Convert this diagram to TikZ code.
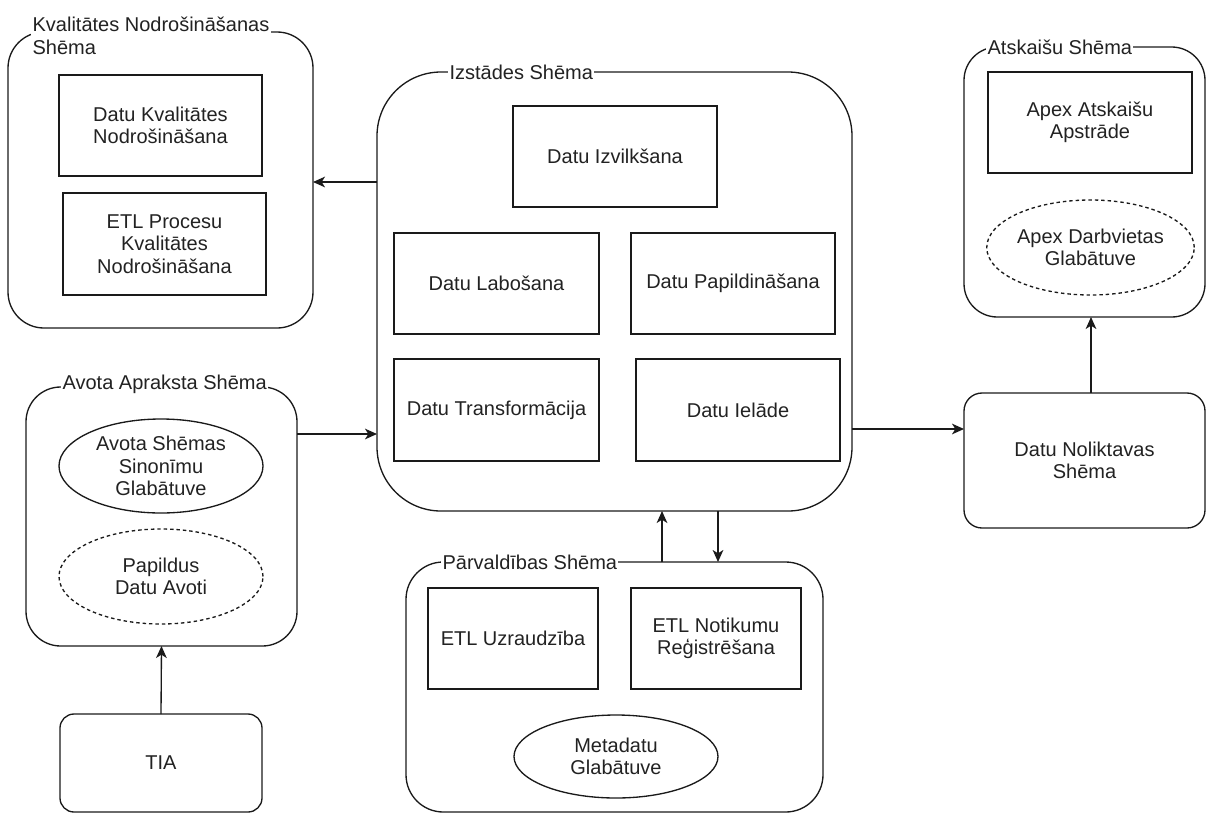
\documentclass[tikz,border=0pt]{standalone}
\usepackage{fontspec}
\setmainfont{Liberation Sans}
\usetikzlibrary{shapes.geometric,arrows.meta}
\definecolor{ink}{HTML}{222222}
\definecolor{edge}{HTML}{1A1A1A}
\begin{document}
\begin{tikzpicture}[x=0.75pt,y=-0.75pt,
  font=\fontsize{15}{16.8}\selectfont,
  % place a node by its left, top, right and bottom edges
  span/.style n args={4}{minimum width={(#3-#1)*0.75pt},
    minimum height={(#4-#2)*0.75pt},
    at={({(#1+#3)/2},{(#2+#4)/2})}},
  group/.style={draw=edge, line width=1pt, rounded corners=#1,
    inner sep=0pt, outer sep=0pt, align=center, text=ink},
  item/.style={draw=edge, line width=1pt, inner sep=0pt, outer sep=0pt,
    align=center, text=ink},
  store/.style={ellipse, draw=edge, line width=1pt, inner sep=0pt,
    outer sep=0pt, align=center, text=ink},
  optstore/.style={store, dash pattern=on 2.6pt off 2.2pt},
  tag/.style={fill=white, inner sep=1pt, anchor=west, align=left, text=ink},
  arr/.style={draw=edge, line width=1pt,
    -{Stealth[length=9pt, width=8pt, inset=2.5pt]}}
]
\useasboundingbox (0,0) rectangle (1209,814);

% Kvalitātes nodrošināšanas shēma
\node[group=27pt, span={8}{32}{313}{328}] (kn) {};
\node[tag] (knlbl) at (31,36) {Kvalitātes Nodrošināšanas\\Shēma};
\node[item, span={59}{75}{262}{176}] (dkn) {Datu Kvalitātes\\Nodrošināšana};
\node[item, span={63}{193}{266}{295}] (etlk) {ETL Procesu\\Kvalitātes\\Nodrošināšana};

% Izstādes shēma
\node[group=48pt, span={377}{72}{852}{511}] (iz) {};
\node[tag] (izlbl) at (448,72) {Izstādes Shēma};
\node[item, span={513}{106}{717}{207}] (izv) {Datu Izvilkšana};
\node[item, span={394}{233}{599}{334}] (lab) {Datu Labošana};
\node[item, span={631}{233}{835}{334}] (pap) {Datu Papildināšana};
\node[item, span={394}{359}{599}{461}] (tra) {Datu Transformācija};
\node[item, span={636}{359}{840}{461}] (iel) {Datu Ielāde};

% Atskaišu shēma
\node[group=25pt, span={964}{47}{1205}{317}] (at) {};
\node[tag] (atlbl) at (986,47) {Atskaišu Shēma};
\node[item, span={988}{72}{1192}{173}] (apx) {Apex Atskaišu\\Apstrāde};
\node[optstore, span={989}{200}{1192}{295}] (adg) {Apex Darbvietas\\Glabātuve};

% Datu noliktavas shēma
\node[group=13.5pt, span={964}{393}{1205}{528}] (dn) {Datu Noliktavas\\Shēma};

% Avota apraksta shēma
\node[group=26pt, span={26}{387}{297}{646}] (av) {};
\node[tag] (avlbl) at (61,384) {Avota Apraksta Shēma};
\node[store, span={59}{419}{263}{513}] (sin) {Avota Shēmas\\Sinonīmu\\Glabātuve};
\node[optstore, span={59}{529}{263}{624}] (pda) {Papildus\\Datu Avoti};

% TIA
\node[group=10.5pt, span={60}{714}{262}{812}] (tia) {TIA};

% Pārvaldības shēma
\node[group=28pt, span={406}{562}{823}{812}] (pv) {};
\node[tag] (pvlbl) at (441,562) {Pārvaldības Shēma};
\node[item, span={428}{588}{598}{689}] (uzr) {ETL Uzraudzība};
\node[item, span={631}{588}{801}{689}] (reg) {ETL Notikumu\\Reģistrēšana};
\node[store, span={514}{715}{718}{798}] (meta) {Metadatu\\Glabātuve};

% connector anchors
\coordinate (izq) at (377,182);
\coordinate (avo) at (297,434);
\coordinate (izo) at (852,429);
\coordinate (dno) at (1091,393);
\coordinate (pvu) at (662,562);
\coordinate (izd) at (718,511);

% connectors
\draw[arr] (izq) -- (izq -| kn.east);
\draw[arr] (avo) -- (avo -| iz.west);
\draw[arr] (izo) -- (izo -| dn.west);
\draw[arr] (dno) -- (dno |- at.south);
\draw[arr] (tia.north) -- (av.south);
\draw[arr] (pvu) -- (pvu |- iz.south);
\draw[arr] (izd) -- (izd |- pv.north);
\end{tikzpicture}
\end{document}
